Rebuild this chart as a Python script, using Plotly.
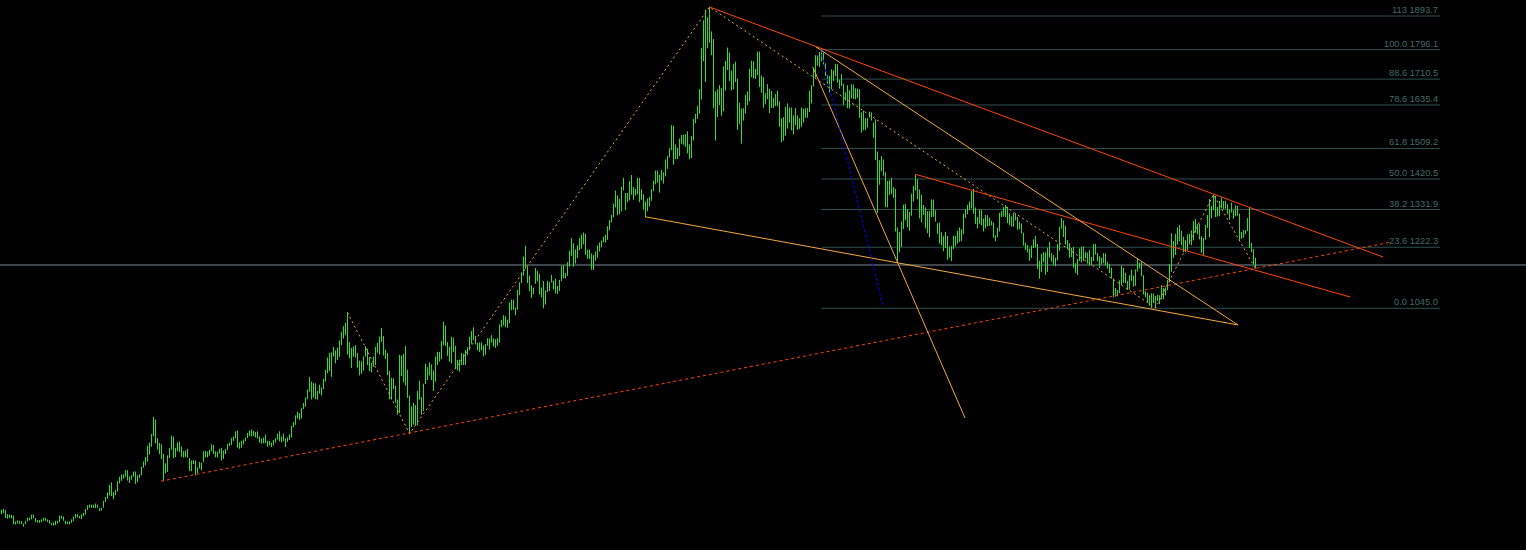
import plotly.graph_objects as go

# Weekly gold bars (high / low), one list pair per year, first bar = week of 22 Nov 2004
hi_2004 = [460, 463, 459, 447, 446, 445]
lo_2004 = [447, 451, 436, 434, 437, 435]
hi_2005 = [443, 426, 429, 428, 427, 420, 428, 437, 437, 446, 446, 436, 430, 430, 432, 437, 437,
           432, 430, 422, 423, 428, 428, 443, 443, 440, 428, 426, 426, 432, 440, 448, 447, 442, 447,
           451, 462, 473, 475, 475, 475, 478, 475, 465, 466, 486, 497, 510, 532, 540, 512, 518]
lo_2005 = [418, 417, 420, 419, 419, 411, 418, 426, 429, 432, 436, 424, 423, 422, 424, 428, 428,
           425, 420, 415, 414, 415, 420, 424, 434, 428, 418, 418, 418, 422, 427, 436, 438, 435, 433,
           441, 446, 459, 466, 466, 465, 465, 466, 456, 458, 466, 483, 492, 502, 500, 491, 502]
hi_2006 = [543, 556, 562, 563, 575, 575, 557, 560, 571, 571, 560, 563, 585, 600, 613, 646, 655,
           680, 730, 722, 668, 654, 650, 622, 595, 618, 639, 675, 672, 640, 656, 658, 644, 630, 632,
           637, 610, 603, 604, 603, 583, 599, 597, 630, 631, 629, 635, 650, 648, 630, 628, 637]
lo_2006 = [513, 537, 544, 550, 556, 545, 538, 547, 556, 535, 540, 553, 560, 582, 589, 600, 620,
           643, 674, 653, 635, 622, 607, 543, 566, 570, 610, 635, 610, 613, 630, 628, 614, 612, 613,
           611, 573, 572, 593, 560, 566, 580, 575, 598, 612, 612, 618, 630, 622, 612, 612, 623]
hi_2007 = [640, 632, 636, 651, 655, 669, 672, 688, 690, 656, 660, 664, 670, 683, 690, 693, 689, 686,
           688, 673, 667, 670, 679, 660, 660, 655, 663, 668, 681, 688, 673, 681, 667, 670, 679,
           704, 715, 734, 745, 741, 755, 770, 786, 809, 845, 832, 828, 827, 805, 823, 815, 840, 866]
lo_2007 = [603, 608, 622, 634, 645, 648, 660, 668, 640, 637, 640, 650, 659, 668, 674, 673, 674, 670,
           667, 655, 652, 653, 654, 643, 647, 642, 647, 655, 664, 659, 656, 660, 642, 657, 663,
           670, 700, 706, 725, 721, 725, 752, 759, 781, 803, 780, 786, 781, 780, 797, 792, 810, 832]
hi_2008 = [902, 915, 917, 933, 923, 931, 952, 977, 993, 1003, 1033, 947, 930, 934, 938, 915, 893,
           891, 905, 935, 927, 903, 887, 905, 933, 945, 963, 988, 964, 925, 915, 864, 843, 842,
           820, 780, 910, 908, 912, 935, 867, 792, 760, 770, 764, 805, 835, 787, 826, 884, 874, 888]
lo_2008 = [856, 863, 846, 905, 885, 895, 904, 938, 957, 968, 911, 900, 872, 905, 902, 873, 850,
           855, 864, 905, 880, 863, 859, 875, 880, 916, 911, 948, 908, 898, 851, 781, 780, 811,
           771, 736, 741, 848, 830, 821, 785, 681, 700, 707, 706, 705, 780, 736, 747, 825, 837, 850]
hi_2009 = [882, 865, 905, 919, 918, 950, 1006, 995, 947, 933, 962, 960, 936, 895, 896, 915, 913,
           924, 932, 962, 979, 990, 965, 945, 946, 946, 937, 941, 958, 958, 967, 958, 955, 958, 998,
           1011, 1025, 1022, 1012, 1062, 1070, 1070, 1047, 1098, 1120, 1150, 1195, 1227,
           1166, 1140, 1112, 1105]
lo_2009 = [837, 805, 832, 880, 890, 897, 938, 936, 907, 890, 885, 918, 870, 865, 861, 880, 880,
           880, 909, 923, 942, 953, 940, 923, 918, 923, 905, 910, 936, 925, 945, 934, 930, 936, 945,
           990, 995, 990, 988, 1002, 1040, 1041, 1025, 1041, 1083, 1118, 1140, 1160,
           1118, 1095, 1075, 1086]
hi_2010 = [1162, 1154, 1145, 1105, 1124, 1097, 1125, 1121, 1142, 1124, 1131, 1110, 1127,
           1169, 1170, 1147, 1179, 1212, 1249, 1234, 1216, 1228, 1249, 1259, 1265, 1262,
           1215, 1216, 1204, 1200, 1210, 1227, 1236, 1242, 1253, 1259, 1283, 1301, 1316,
           1349, 1387, 1373, 1363, 1398, 1424, 1380, 1380, 1414, 1432, 1397, 1392, 1424]
lo_2010 = [1116, 1123, 1085, 1077, 1045, 1056, 1092, 1095, 1120, 1100, 1088, 1087, 1095,
           1124, 1132, 1132, 1139, 1166, 1197, 1166, 1175, 1191, 1214, 1218, 1231, 1200,
           1189, 1188, 1157, 1156, 1183, 1192, 1210, 1222, 1237, 1236, 1244, 1272, 1294,
           1309, 1338, 1316, 1318, 1326, 1387, 1330, 1353, 1358, 1375, 1360, 1372, 1376]
hi_2011 = [1423, 1390, 1376, 1355, 1364, 1368, 1391, 1415, 1445, 1445, 1433, 1447, 1440,
           1477, 1487, 1510, 1577, 1575, 1521, 1511, 1538, 1548, 1549, 1550, 1559, 1521,
           1545, 1595, 1610, 1632, 1681, 1801, 1881, 1912, 1890, 1920, 1849, 1827, 1675,
           1681, 1693, 1684, 1747, 1763, 1802, 1788, 1735, 1755, 1761, 1712, 1642, 1625]
lo_2011 = [1353, 1360, 1332, 1309, 1327, 1341, 1357, 1385, 1405, 1410, 1381, 1416, 1407,
           1428, 1450, 1483, 1504, 1462, 1478, 1478, 1487, 1523, 1520, 1514, 1495, 1478,
           1481, 1532, 1582, 1595, 1610, 1651, 1762, 1702, 1800, 1816, 1780, 1627, 1532,
           1600, 1635, 1604, 1617, 1677, 1737, 1705, 1678, 1681, 1702, 1563, 1580, 1523]
hi_2012 = [1626, 1665, 1675, 1740, 1764, 1762, 1740, 1790, 1791, 1721, 1716, 1670, 1696,
           1682, 1676, 1655, 1667, 1677, 1646, 1596, 1600, 1630, 1640, 1628, 1628, 1605,
           1626, 1605, 1597, 1628, 1624, 1626, 1626, 1677, 1693, 1741, 1780, 1779, 1789,
           1796, 1788, 1756, 1723, 1720, 1739, 1736, 1755, 1754, 1709, 1725, 1697, 1672, 1693]
lo_2012 = [1590, 1610, 1635, 1646, 1716, 1713, 1711, 1722, 1688, 1671, 1627, 1637, 1652,
           1612, 1627, 1627, 1632, 1632, 1572, 1527, 1532, 1546, 1567, 1584, 1562, 1550,
           1577, 1563, 1566, 1572, 1584, 1598, 1598, 1615, 1640, 1689, 1715, 1750, 1746,
           1762, 1753, 1720, 1697, 1672, 1682, 1705, 1719, 1700, 1683, 1691, 1636, 1648, 1626]
hi_2013 = [1678, 1696, 1695, 1684, 1683, 1681, 1614, 1619, 1597, 1597, 1616, 1614,
           1584, 1593, 1500, 1475, 1487, 1477, 1440, 1415, 1417, 1424, 1397, 1392, 1280,
           1267, 1297, 1346, 1348, 1333, 1325, 1378, 1400, 1434, 1420, 1390, 1375, 1345, 1338,
           1327, 1327, 1361, 1361, 1330, 1292, 1294, 1266, 1254, 1267, 1255, 1224, 1226]
lo_2013 = [1625, 1655, 1653, 1652, 1656, 1598, 1555, 1562, 1563, 1570, 1599, 1590,
           1540, 1476, 1321, 1404, 1443, 1430, 1339, 1338, 1374, 1377, 1366, 1268, 1180,
           1207, 1223, 1275, 1300, 1280, 1270, 1314, 1355, 1387, 1362, 1306, 1294, 1316, 1277,
           1263, 1251, 1310, 1311, 1297, 1261, 1233, 1228, 1211, 1220, 1186, 1192, 1182]
hi_2014 = [1256, 1255, 1270, 1280, 1274, 1320, 1332, 1345, 1355, 1385, 1392, 1338, 1310,
           1331, 1331, 1305, 1316, 1315, 1308, 1299, 1294, 1257, 1279, 1322, 1327, 1339,
           1345, 1340, 1321, 1312, 1322, 1320, 1310, 1296, 1291, 1265, 1236, 1229, 1218,
           1227, 1245, 1255, 1232, 1183, 1203, 1208, 1207, 1221, 1238, 1205, 1200, 1192]
lo_2014 = [1217, 1225, 1233, 1238, 1240, 1260, 1307, 1318, 1330, 1335, 1320, 1290, 1277,
           1290, 1286, 1268, 1277, 1283, 1284, 1286, 1250, 1240, 1251, 1268, 1310, 1311,
           1310, 1292, 1287, 1282, 1282, 1300, 1273, 1275, 1262, 1227, 1214, 1207, 1183,
           1191, 1220, 1222, 1160, 1131, 1150, 1179, 1142, 1150, 1192, 1180, 1171, 1167]
hi_2015 = [1232, 1282, 1307, 1300, 1284, 1243, 1234, 1220, 1223, 1176, 1188, 1219, 1224,
           1225, 1209, 1207, 1215, 1194, 1232, 1232, 1206, 1196, 1192, 1205, 1204, 1180,
           1174, 1163, 1131, 1104, 1098, 1126, 1169, 1162, 1148, 1125, 1141, 1157, 1140,
           1158, 1191, 1178, 1181, 1141, 1094, 1090, 1083, 1088, 1088, 1081, 1084, 1083]
lo_2015 = [1184, 1212, 1276, 1252, 1230, 1216, 1192, 1194, 1163, 1148, 1142, 1182, 1178,
           1183, 1190, 1175, 1169, 1170, 1182, 1201, 1182, 1162, 1172, 1176, 1169, 1160,
           1147, 1131, 1077, 1079, 1080, 1089, 1112, 1119, 1118, 1098, 1099, 1125, 1108,
           1110, 1152, 1161, 1138, 1085, 1077, 1062, 1052, 1046, 1060, 1046, 1066, 1057]
hi_2016 = [1112, 1104, 1106, 1128, 1174, 1263, 1240, 1261, 1280, 1287, 1270, 1253, 1243,
           1260, 1261, 1271, 1298, 1304, 1290, 1290, 1254, 1249, 1287, 1316, 1362, 1342,
           1375, 1372, 1340, 1357, 1367, 1357, 1357, 1347, 1331, 1352, 1330, 1344, 1342,
           1320, 1267, 1272, 1272, 1307, 1338, 1235, 1217, 1192]
lo_2016 = [1071, 1071, 1082, 1097, 1120, 1151, 1191, 1200, 1230, 1240, 1228, 1208, 1208,
           1213, 1231, 1228, 1242, 1265, 1260, 1245, 1206, 1200, 1244, 1278, 1251, 1306,
           1330, 1310, 1311, 1312, 1335, 1332, 1334, 1318, 1302, 1323, 1305, 1312, 1314,
           1241, 1247, 1250, 1260, 1269, 1220, 1208, 1172, 1160]

highs = (hi_2004 + hi_2005 + hi_2006 + hi_2007 + hi_2008 + hi_2009 + hi_2010 + hi_2011
         + hi_2012 + hi_2013 + hi_2014 + hi_2015 + hi_2016)
lows = (lo_2004 + lo_2005 + lo_2006 + lo_2007 + lo_2008 + lo_2009 + lo_2010 + lo_2011
        + lo_2012 + lo_2013 + lo_2014 + lo_2015 + lo_2016)
n = min(len(highs), len(lows))

# Fibonacci retracement (labels as printed on the chart)
fib_ratios = ["113", "100.0", "88.6", "78.6", "61.8", "50.0", "38.2", "23.6", "0.0"]
fib_prices = [1893.7, 1796.1, 1710.5, 1635.4, 1509.2, 1420.5, 1331.9, 1222.3, 1045.0]
fib_start, fib_end = 410, 719.25

bid_price = 1170.7

# zigzag swing points (bar index, H/L)
zig_idx = [173, 204, 354, 577, 606, 627]
zig_kind = ["H", "L", "H", "L", "H", "L"]

# trend lines: (bar index, price) end points
red_upper = [(354, 1920.0), (690.75, 1194.0)]
red_lower = [(457, 1434.0), (674.25, 1078.0)]
red_support = [(79.75, 543.0), (694.25, 1236.6)]
blue_line = [(409.5, 1796.0), (440.6, 1055.0)]
orange_steep = [(405.6, 1746.5), (481.75, 726.5)]
orange_upper = [(407.1, 1804.6), (618.25, 996.6)]
orange_lower = [(321.75, 1311.0), (618.25, 996.6)]

BAR = "#2EDC2E"
RED = "#FF4500"
ORANGE = "#F2A93B"
FIB = "#2F4F4F"
FIBTXT = "#446A6A"

fig = go.Figure()

bx, by = [], []
for i in range(n):
    bx += [i, i, None]
    by += [lows[i], highs[i], None]
fig.add_trace(go.Scatter(x=bx, y=by, mode="lines", line=dict(color=BAR, width=1),
                         hoverinfo="skip", showlegend=False))

def seg(pts, color, dash="solid"):
    fig.add_trace(go.Scatter(x=[p[0] for p in pts], y=[p[1] for p in pts], mode="lines",
                             line=dict(color=color, width=1, dash=dash),
                             hoverinfo="skip", showlegend=False))

# bid line
fig.add_shape(type="line", xref="paper", x0=0, x1=1, yref="y", y0=bid_price, y1=bid_price,
              line=dict(color="#7D8B98", width=1), layer="below")

# fibo levels
for r, p in zip(fib_ratios, fib_prices):
    fig.add_shape(type="line", xref="x", yref="y", x0=fib_start, x1=fib_end, y0=p, y1=p,
                  line=dict(color=FIB, width=1), layer="below")
    fig.add_annotation(x=fib_end, y=p, xref="x", yref="y", text=f"{r} {p:.1f}",
                       showarrow=False, xanchor="right", yanchor="bottom", yshift=-1,
                       font=dict(family="Liberation Sans, Arial", size=9.3, color=FIBTXT))

zx = [zig_idx[k] for k in range(len(zig_idx))]
zy = [highs[i] if kd == "H" else lows[i] for i, kd in zip(zig_idx, zig_kind)]
seg(list(zip(zx, zy)), ORANGE, "2px,3px")

seg(red_support, RED, "3px,3px")
seg(red_upper, RED)
seg(red_lower, RED)
seg(orange_upper, ORANGE)
seg(orange_lower, ORANGE)
seg(orange_steep, ORANGE)
seg(blue_line, "#0000FF", "3px,2px")

fig.update_layout(
    width=1526, height=550,
    margin=dict(l=0, r=0, t=0, b=0),
    paper_bgcolor="#000000", plot_bgcolor="#000000",
    xaxis=dict(range=[-0.75, 762.25], visible=False, showgrid=False, zeroline=False),
    yaxis=dict(range=[343.2, 1940.2], visible=False, showgrid=False, zeroline=False),
    showlegend=False,
)

fig.write_html("out.html", config={"displayModeBar": False},
               post_script="document.body.style.margin='0';document.body.style.background='#000';")
